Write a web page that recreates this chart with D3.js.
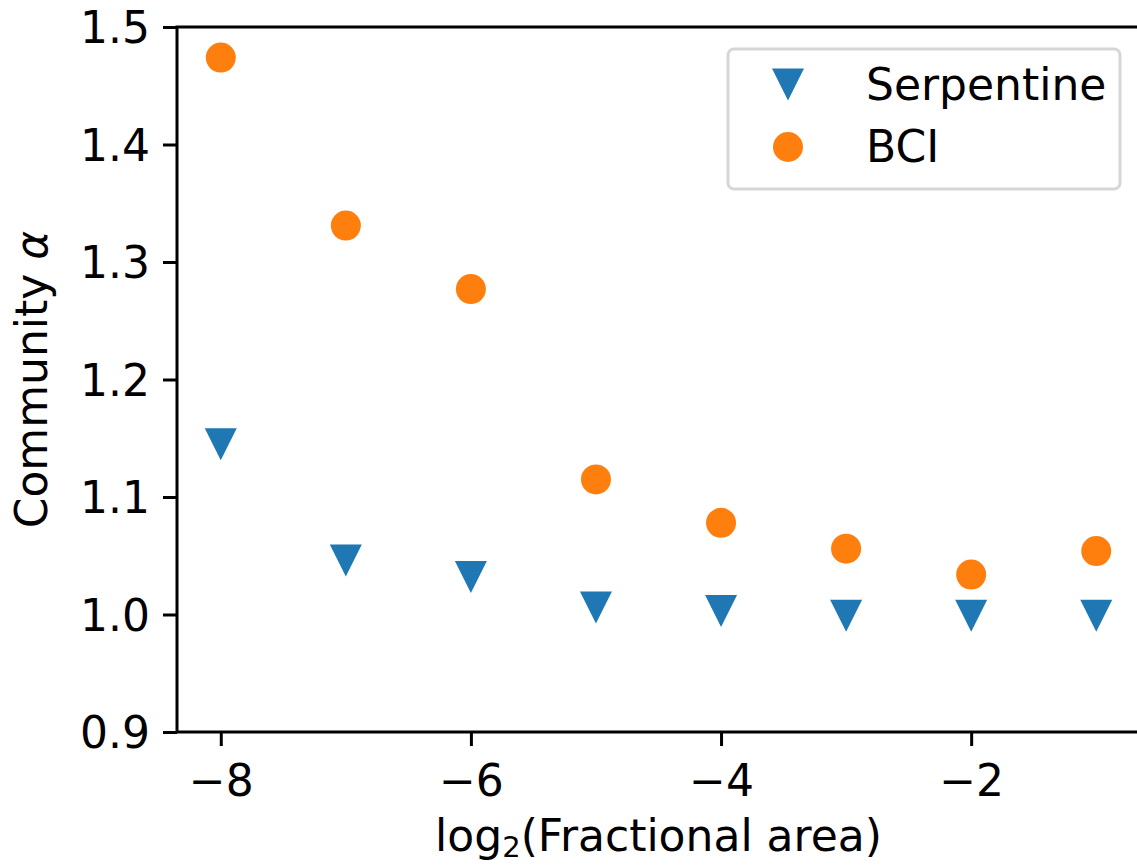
<!DOCTYPE html>
<html>
<head>
<meta charset="utf-8">
<script src="https://cdn.jsdelivr.net/npm/d3@7"></script>
<style>
  body { margin: 0; background: #fff; }
  svg { display: block; font-family: "DejaVu Sans", sans-serif; }
</style>
</head>
<body>
<script>
// data
const xs = [-8, -7, -6, -5, -4, -3, -2, -1];
const serpentine = [1.145, 1.046, 1.032, 1.006, 1.003, 0.999, 0.999, 0.999];
const bci = [1.474, 1.331, 1.277, 1.115, 1.078, 1.056, 1.034, 1.054];
const xTicks = [-8, -6, -4, -2];
const yTicks = [0.9, 1.0, 1.1, 1.2, 1.3, 1.4, 1.5];
const seriesNames = ["Serpentine", "BCI"];

const W = 1137, H = 866;
const margin = { left: 177, top: 27, right: 1140, bottom: 732 };
const blue = "#1f77b4", orange = "#ff7f0e";
const fs = 44;

const svg = d3.select("body").append("svg")
    .attr("width", W)
    .attr("height", H);

const x = d3.scaleLinear().domain([-8.35, -0.65]).range([margin.left, margin.right]);
const y = d3.scaleLinear().domain([0.9, 1.5]).range([margin.bottom, margin.top]);

// spines
svg.append("rect")
    .attr("x", margin.left).attr("y", margin.top)
    .attr("width", margin.right - margin.left).attr("height", margin.bottom - margin.top)
    .attr("fill", "none").attr("stroke", "#000").attr("stroke-width", 3);

// x axis
const xAxis = svg.append("g")
    .attr("transform", "translate(0," + margin.bottom + ")")
    .call(d3.axisBottom(x).tickValues(xTicks).tickSize(14)
        .tickFormat(d => "\u2212" + Math.abs(d)));
xAxis.select(".domain").remove();
xAxis.selectAll(".tick line").attr("stroke", "#000").attr("stroke-width", 3);
xAxis.selectAll(".tick text")
    .attr("y", 64).attr("dy", null)
    .attr("fill", "#000")
    .style("font-size", fs + "px")
    .style("font-family", "DejaVu Sans");

// y axis
const yAxis = svg.append("g")
    .attr("transform", "translate(" + margin.left + ",0)")
    .call(d3.axisLeft(y).tickValues(yTicks).tickSize(14).tickFormat(d3.format(".1f")));
yAxis.select(".domain").remove();
yAxis.selectAll(".tick line").attr("stroke", "#000").attr("stroke-width", 3);
yAxis.selectAll(".tick text")
    .attr("x", -27).attr("dy", "0.36em")
    .attr("fill", "#000")
    .style("font-size", fs + "px")
    .style("font-family", "DejaVu Sans");

// axis labels
const xl = svg.append("text")
    .attr("x", (margin.left + margin.right) / 2)
    .attr("y", 851)
    .attr("text-anchor", "middle")
    .style("font-size", fs + "px");
xl.append("tspan").text("log");
xl.append("tspan").attr("dy", 6).style("font-size", "29px").text("2");
xl.append("tspan").attr("dy", -6).text("(Fractional area)");

const yl = svg.append("text")
    .attr("transform", "translate(47," + (margin.top + margin.bottom) / 2 + ")rotate(-90)")
    .attr("text-anchor", "middle")
    .style("font-size", fs + "px");
yl.append("tspan").text("Community ");
yl.append("tspan").style("font-style", "italic").text("\u03b1");

// triangle-down marker path
const half = 16;
function triDown(cx, cy) {
    return "M" + (cx - half) + "," + (cy - half) +
        "L" + (cx + half) + "," + (cy - half) +
        "L" + cx + "," + (cy + half) + "Z";
}

const plot = svg.append("g");

plot.selectAll(".serp")
    .data(xs)
    .enter()
    .append("path")
    .attr("class", "serp")
    .attr("d", (d, i) => triDown(x(d), y(serpentine[i])))
    .attr("fill", blue);

plot.selectAll(".bci")
    .data(xs)
    .enter()
    .append("circle")
    .attr("class", "bci")
    .attr("cx", d => x(d))
    .attr("cy", (d, i) => y(bci[i]))
    .attr("r", 15)
    .attr("fill", orange);

// legend
const lg = svg.append("g");
lg.append("rect")
    .attr("x", 728).attr("y", 49)
    .attr("width", 392).attr("height", 140)
    .attr("rx", 6)
    .attr("fill", "#fff")
    .attr("stroke", "#d6d6d6")
    .attr("stroke-width", 3);
lg.append("path")
    .attr("d", triDown(788, 84.5))
    .attr("fill", blue);
lg.append("circle")
    .attr("cx", 788).attr("cy", 147).attr("r", 15)
    .attr("fill", orange);
lg.selectAll(".lt")
    .data(seriesNames)
    .enter()
    .append("text")
    .attr("class", "lt")
    .attr("x", 866)
    .attr("y", (d, i) => 100 + i * 62)
    .style("font-size", fs + "px")
    .text(d => d);
</script>
</body>
</html>
